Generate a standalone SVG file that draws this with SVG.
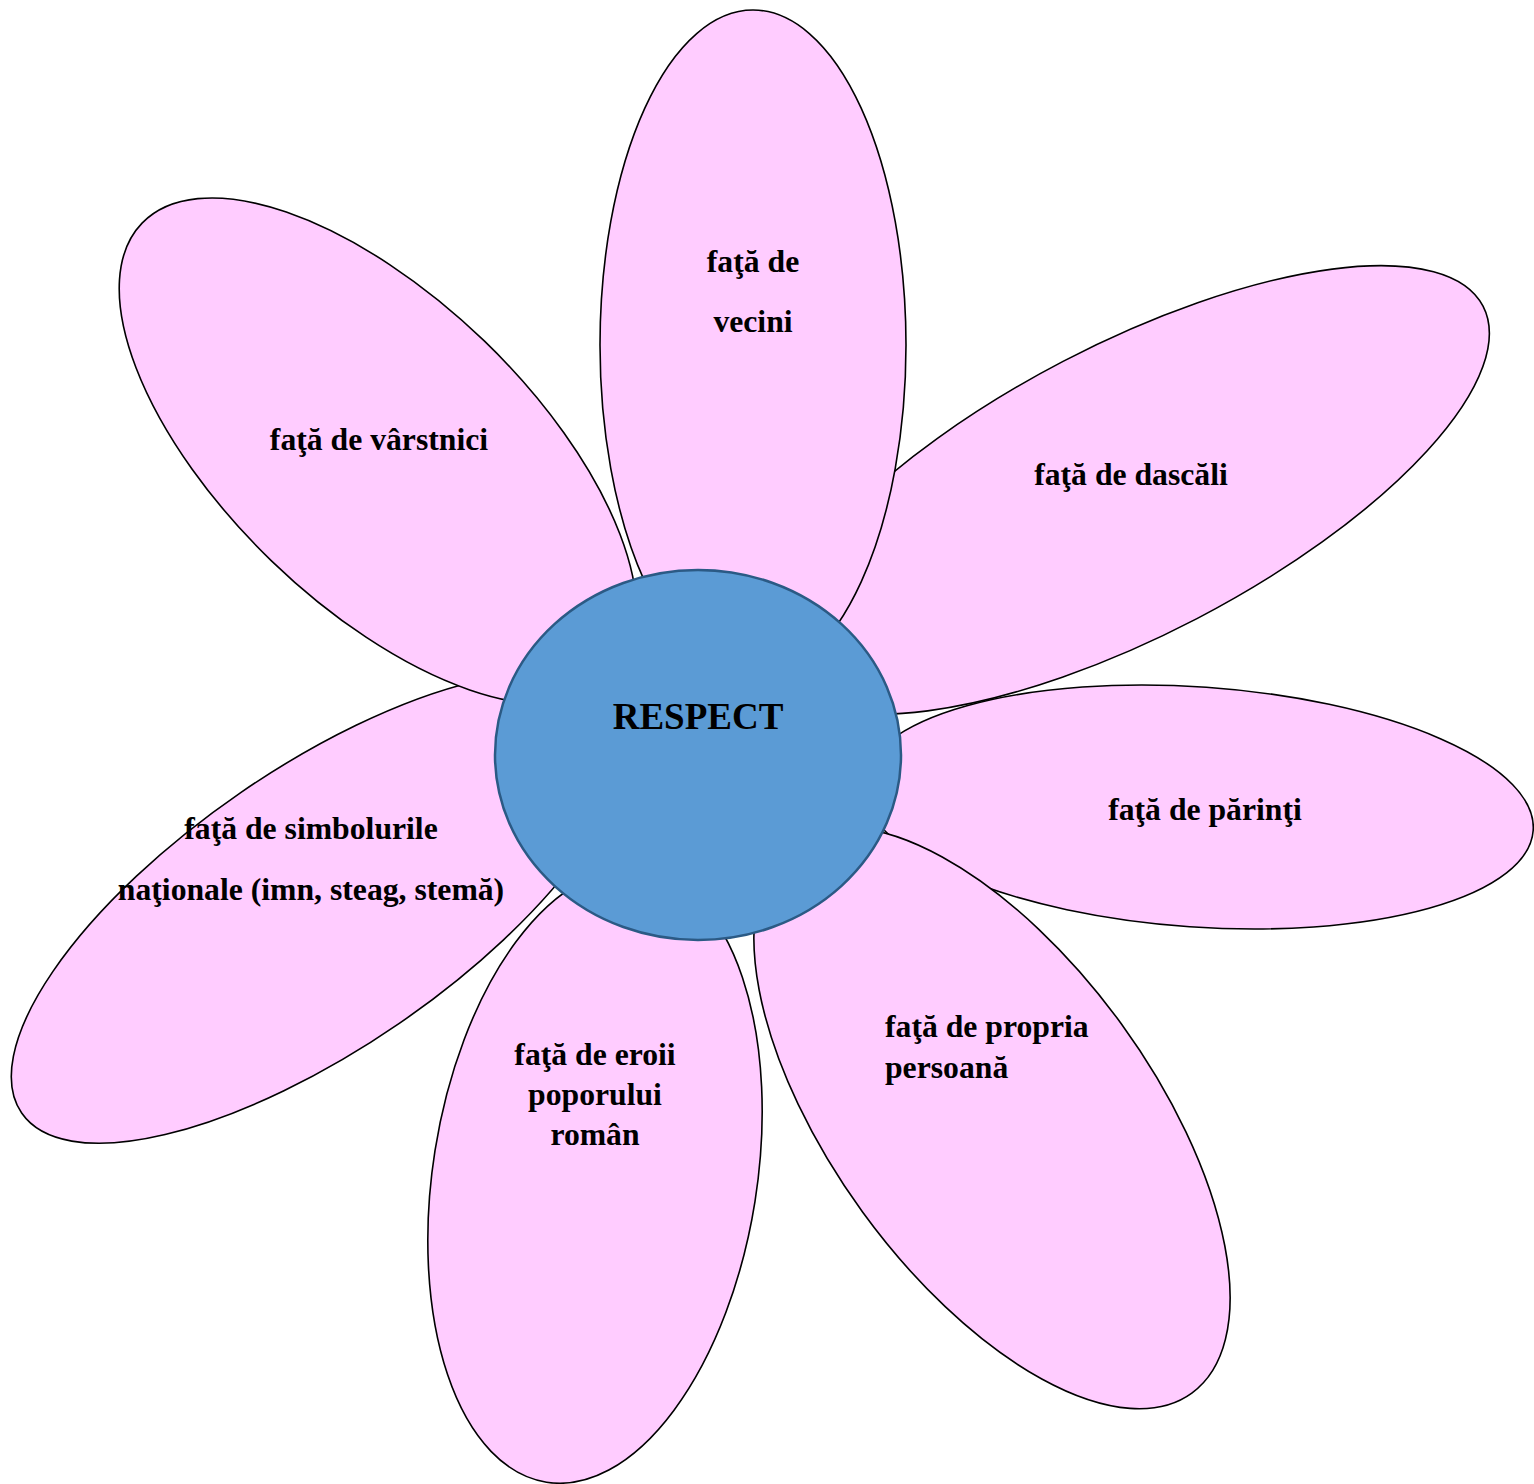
<svg xmlns="http://www.w3.org/2000/svg" width="1534" height="1484" viewBox="0 0 1534 1484">
<style>
.petal{fill:#FFCCFF;stroke:#000;stroke-width:1.6}
.center{fill:#5B9BD5;stroke:#2B5A85;stroke-width:2.5}
text{font-family:"Liberation Serif","Times New Roman",serif;font-weight:bold;font-size:31.7px;fill:#000}
.mid{text-anchor:middle}
</style>
<rect width="1534" height="1484" fill="#fff"/>
<g id="connectors"/>
<g id="petal-dascali">
<ellipse class="petal" cx="1130" cy="490" rx="398" ry="145" transform="rotate(-27.5 1130 490)"/>
<text class="mid" x="1131" y="485">faţă de dascăli</text>
</g>
<g id="petal-vecini">
<ellipse class="petal" cx="753" cy="345" rx="153" ry="335"/>
<text class="mid" x="753" y="272">faţă de</text>
<text class="mid" x="753" y="332">vecini</text>
</g>
<g id="petal-simboluri">
<ellipse class="petal" cx="320" cy="908" rx="362" ry="140" transform="rotate(-34.5 320 908)"/>
<text class="mid" x="311" y="839">faţă de simbolurile</text>
<text class="mid" x="311" y="900">naţionale (imn, steag, stemă)</text>
</g>
<g id="petal-varstnici">
<ellipse class="petal" cx="378" cy="451" rx="328" ry="153" transform="rotate(44 378 451)"/>
<text class="mid" x="379" y="450">faţă de vârstnici</text>
</g>
<g id="petal-parinti">
<ellipse class="petal" cx="1198" cy="807" rx="336" ry="120" transform="rotate(4 1198 807)"/>
<text class="mid" x="1205" y="820">faţă de părinţi</text>
</g>
<g id="petal-propria">
<ellipse class="petal" cx="992" cy="1118" rx="340" ry="160" transform="rotate(54 992 1118)"/>
<text x="885" y="1037">faţă de propria</text>
<text x="885" y="1078">persoană</text>
</g>
<g id="petal-eroii">
<ellipse class="petal" cx="595" cy="1176" rx="162" ry="310" transform="rotate(9 595 1176)"/>
<text class="mid" x="595" y="1065">faţă de eroii</text>
<text class="mid" x="595" y="1105">poporului</text>
<text class="mid" x="595" y="1145">român</text>
</g>
<g id="center-respect">
<ellipse class="center" cx="698" cy="755" rx="203" ry="185"/>
<text class="mid" x="698" y="729" style="font-size:37px">RESPECT</text>
</g>
</svg>
